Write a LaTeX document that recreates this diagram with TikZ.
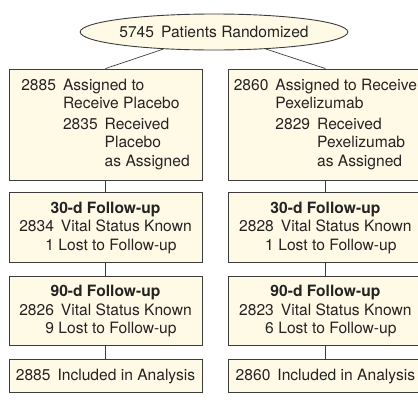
\documentclass[tikz,border=0pt]{standalone}
\usepackage{fontspec}
\setmainfont{TeX Gyre Heros}
\usepackage{tikz}
\usetikzlibrary{shapes.geometric, positioning}
\definecolor{boxfill}{RGB}{255,250,230}
\definecolor{boxline}{RGB}{60,60,60}
\definecolor{textgray}{RGB}{35,35,35}

\begin{document}
\begin{tikzpicture}[x=1pt, y=-1pt, font=\fontsize{15.6}{18.5}\selectfont, text=textgray]
% Define styles
\tikzstyle{start} = [ellipse, minimum width=221pt, minimum height=36pt, inner sep=0pt, align=center, draw=boxline, fill=boxfill, line width=0.9pt]
\tikzstyle{arm} = [rectangle, minimum width=193pt, minimum height=111pt, inner sep=0pt, draw=boxline, fill=boxfill, line width=0.9pt]
\tikzstyle{fup} = [arm, minimum height=70pt]
\tikzstyle{total} = [arm, minimum height=33pt]
\tikzstyle{link} = [draw=boxline, line width=0.7pt]
\useasboundingbox (0,0) rectangle (418,400);
% Place nodes
\node (rand) [start] at (214,32) {5745\hspace{7pt}Patients Randomized};
\node (plac) [arm] at (105.5,124.5) {\begin{tabular}[t]{@{}l@{\hspace{7pt}}l@{}}
2885 & Assigned to\tabularnewline
{} & Receive Placebo\tabularnewline[2pt]
{} & \begin{tabular}[t]{@{}l@{\hspace{7pt}}l@{}}2835 & Received\tabularnewline {} & Placebo\tabularnewline {} & as Assigned\end{tabular}
\end{tabular}};
\node (pexe) [arm, right=26pt of plac] {\begin{tabular}[t]{@{}l@{\hspace{7pt}}l@{}}
2860 & Assigned to Receive\tabularnewline
{} & Pexelizumab\tabularnewline[2pt]
{} & \begin{tabular}[t]{@{}l@{\hspace{7pt}}l@{}}2829 & Received\tabularnewline {} & Pexelizumab\tabularnewline {} & as Assigned\end{tabular}
\end{tabular}};
\node (plac30) [fup, below=12pt of plac] {\begin{tabular}{@{}r@{\hspace{7pt}}l@{}}
\multicolumn{2}{c}{\bfseries 30-d Follow-up}\tabularnewline
2834 & Vital Status Known\tabularnewline
1 & \hspace{-2.5pt}Lost to Follow-up
\end{tabular}};
\node (pexe30) [fup, below=12pt of pexe] {\begin{tabular}{@{}r@{\hspace{7pt}}l@{}}
\multicolumn{2}{c}{\bfseries 30-d Follow-up}\tabularnewline
2828 & Vital Status Known\tabularnewline
1 & \hspace{-2.5pt}Lost to Follow-up
\end{tabular}};
\node (plac90) [fup, below=13pt of plac30, minimum height=69pt] {\begin{tabular}{@{}r@{\hspace{7pt}}l@{}}
\multicolumn{2}{c}{\bfseries 90-d Follow-up}\tabularnewline
2826 & Vital Status Known\tabularnewline
9 & \hspace{-2.5pt}Lost to Follow-up
\end{tabular}};
\node (pexe90) [fup, below=13pt of pexe30, minimum height=69pt] {\begin{tabular}{@{}r@{\hspace{7pt}}l@{}}
\multicolumn{2}{c}{\bfseries 90-d Follow-up}\tabularnewline
2823 & Vital Status Known\tabularnewline
6 & \hspace{-2.5pt}Lost to Follow-up
\end{tabular}};
\node (placall) [total, below=13pt of plac90] {2885\hspace{7pt}Included in Analysis};
\node (pexeall) [total, below=13pt of pexe90] {2860\hspace{7pt}Included in Analysis};
% Draw links
\draw [link] (rand) -- (plac.north);
\draw [link] (rand) -- (pexe.north);
\draw [link] (plac) -- (plac30);
\draw [link] (pexe) -- (pexe30);
\draw [link] (plac30) -- (plac90);
\draw [link] (pexe30) -- (pexe90);
\draw [link] (plac90) -- (placall);
\draw [link] (pexe90) -- (pexeall);
\end{tikzpicture}
\end{document}
